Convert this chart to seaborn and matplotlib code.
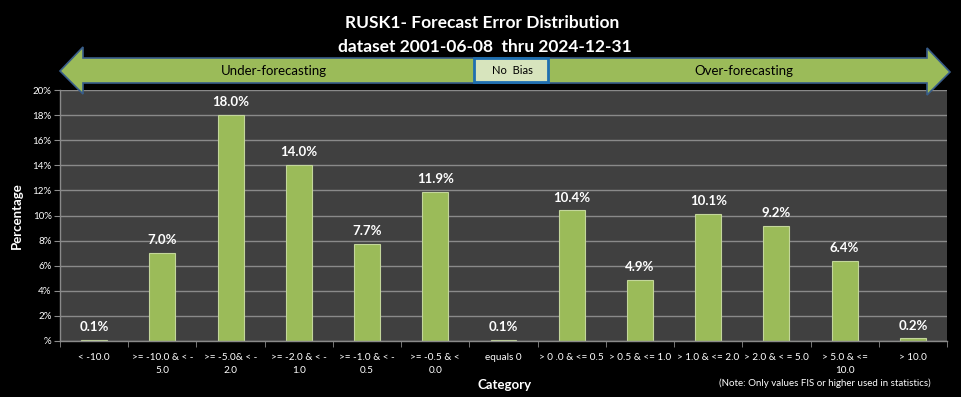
import numpy as np
import pandas as pd
import seaborn as sns
import matplotlib.pyplot as plt
from matplotlib.patches import Polygon, Rectangle

categorias = ["< -10.0", ">= -10.0 & < -\n5.0", ">= -5.0& < -\n2.0", ">= -2.0 & < -\n1.0",
              ">= -1.0 & < -\n0.5", ">= -0.5 & <\n0.0", "equals 0", "> 0 .0 & <= 0.5",
              "> 0.5 & <= 1.0", "> 1.0 & <= 2.0", "> 2.0 & < = 5.0", "> 5.0 & <=\n10.0", "> 10.0"]
porcentajes = [0.1, 7.0, 18.0, 14.0, 7.7, 11.9, 0.1, 10.4, 4.9, 10.1, 9.2, 6.4, 0.2]
yticks = [0, 2, 4, 6, 8, 10, 12, 14, 16, 18, 20]
ytick_labels = ["%"] + [f"{v}%" for v in yticks[1:]]

sns.set_style("dark")
plt.rcParams['font.family'] = ['Lato', 'DejaVu Sans']

W, H = 961, 397
fig = plt.figure(figsize=(W / 100, H / 100), dpi=100, facecolor="black")
ax = fig.add_axes([60 / W, 1 - 341 / H, (947 - 60) / W, (341 - 90) / H])
ax.set_facecolor("#404040")

df = pd.DataFrame({"Category": categorias, "Percentage": porcentajes})
sns.barplot(data=df, x="Category", y="Percentage", color="#9BBB59", width=0.38,
            edgecolor="#C3D69B", linewidth=0.8, saturation=1, ax=ax)

for i, v in enumerate(porcentajes):
    ax.annotate(f"{v:.1f}%", (i, v), xytext=(0, 5), textcoords="offset points",
                ha="center", va="bottom", color="white", fontsize=9.5, fontweight="bold")

ax.set_xlim(-0.5, 12.5)
ax.set_ylim(0, 20)
ax.set_yticks(yticks)
ax.set_yticklabels(ytick_labels, color="white", fontsize=7)
ax.grid(axis="y", color="#8a8a8a", linewidth=1)
ax.set_axisbelow(True)

ax.set_xticks(np.arange(len(categorias)))
ax.set_xticklabels(categorias, color="white", fontsize=7.2, linespacing=1.55)
ax.set_xticks(np.arange(-0.5, 13, 1), minor=True)
ax.tick_params(axis="x", which="major", length=0, pad=9)
ax.tick_params(axis="x", which="minor", length=4, color="#8a8a8a", bottom=True)
ax.tick_params(axis="y", length=4, color="#8a8a8a", left=True, pad=2)

for s in ["top", "right"]:
    ax.spines[s].set_visible(False)
for s in ["left", "bottom"]:
    ax.spines[s].set_color("#8a8a8a")
    ax.spines[s].set_linewidth(1)

ax.set_xlabel("")
ax.set_ylabel("")
fig.text(17 / W, 1 - 216 / H, "Percentage", rotation=90, ha="center", va="center",
         color="white", fontsize=9.5, fontweight="bold")
fig.text(505 / W, 1 - 385 / H, "Category", ha="center", va="center",
         color="white", fontsize=9.5, fontweight="bold")
fig.text(825 / W, 1 - 383 / H, "(Note: Only values FIS or higher used in statistics)",
         ha="center", va="center", color="white", fontsize=7)

# titulo
fig.text(482 / W, 1 - 23 / H, "RUSK1- Forecast Error Distribution", ha="center", va="center",
         color="white", fontsize=12.5, fontweight="bold")
fig.text(485 / W, 1 - 47 / H, "dataset 2001-06-08  thru 2024-12-31", ha="center", va="center",
         color="white", fontsize=12.5, fontweight="bold")

# flecha doble
pts = [(60, 71), (83, 47), (83, 58), (927, 58), (927, 48), (950, 72), (927, 95),
       (927, 83), (83, 83), (83, 94)]
pts = [(x / W, 1 - y / H) for x, y in pts]
fig.patches.append(Polygon(pts, closed=True, facecolor="#9BBB59", edgecolor="#385D8A",
                           linewidth=1.2, transform=fig.transFigure, figure=fig))
fig.patches.append(Rectangle((474 / W, 1 - 82 / H), 74 / W, 24 / H, facecolor="#D7E4BD",
                             edgecolor="#1F6FB0", linewidth=2, transform=fig.transFigure, figure=fig))
fig.text(274 / W, 1 - 71 / H, "Under-forecasting", ha="center", va="center", color="black", fontsize=9.5)
fig.text(744 / W, 1 - 71 / H, "Over-forecasting", ha="center", va="center", color="black", fontsize=9.5)
fig.text(512 / W, 1 - 71 / H, "No  Bias", ha="center", va="center", color="black", fontsize=8)

fig.savefig("out.png", dpi=100, facecolor="black")
